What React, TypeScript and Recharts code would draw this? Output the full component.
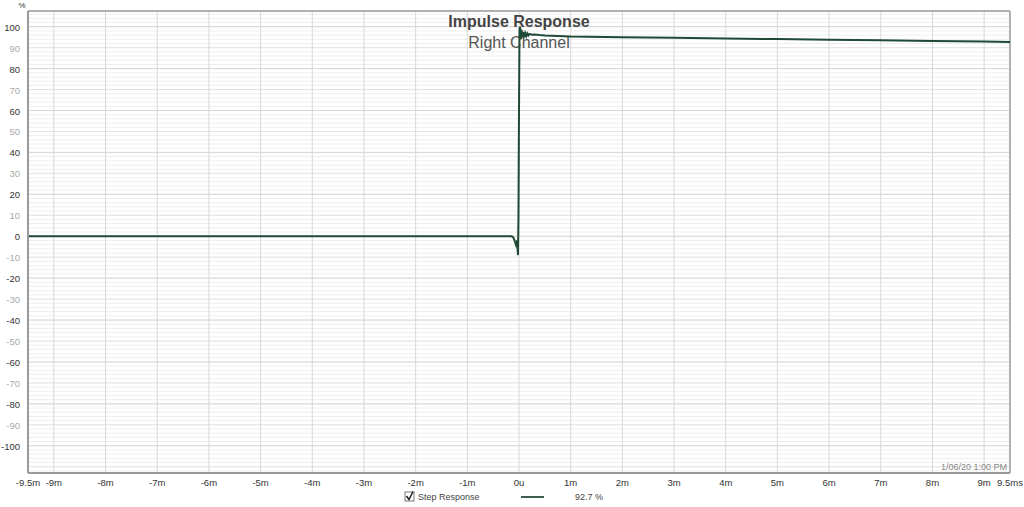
import React from 'react';
import { LineChart, Line, XAxis, YAxis, CartesianGrid, Customized } from 'recharts';

const timeMs = [-9.5, -2, -0.3, -0.15, -0.12, -0.1, -0.08, -0.06, -0.05, -0.04, -0.03, -0.02, -0.01, 0.0, 0.01, 0.02, 0.03, 0.04, 0.05, 0.06, 0.08, 0.1, 0.12, 0.14, 0.16, 0.18, 0.2, 0.25, 0.3, 0.4, 0.5, 1, 2, 3, 4, 5, 6, 7, 8, 9, 9.5];
const stepPct = [0, 0, 0, 0, -0.3, -1, -2.5, -4, -3, -2, -5, -9, 10, 60, 99, 100, 98, 94, 98.5, 95, 97.5, 95, 97, 95.5, 96.8, 95.8, 96.6, 96.2, 96.3, 96, 95.8, 95.3, 95.0, 94.7, 94.4, 94.1, 93.8, 93.5, 93.2, 92.9, 92.7];

const xTicks = [-9.5, -9, -8, -7, -6, -5, -4, -3, -2, -1, 0, 1, 2, 3, 4, 5, 6, 7, 8, 9, 9.5];
const xTickLabels = ['-9.5m', '-9m', '-8m', '-7m', '-6m', '-5m', '-4m', '-3m', '-2m', '-1m', '0u', '1m', '2m', '3m', '4m', '5m', '6m', '7m', '8m', '9m', '9.5ms'];
const yTicks = [100, 90, 80, 70, 60, 50, 40, 30, 20, 10, 0, -10, -20, -30, -40, -50, -60, -70, -80, -90, -100];
const verticalGrid = [-9, -8, -7, -6, -5, -4, -3, -2, -1, 0, 1, 2, 3, 4, 5, 6, 7, 8, 9];
const minorGrid: number[] = [];
for (let v = -112; v <= 106; v += 2) minorGrid.push(v);
const tenGrid = [-110, -90, -70, -50, -30, -10, 10, 30, 50, 70, 90];
const twentyGrid = [-100, -80, -60, -40, -20, 0, 20, 40, 60, 80, 100];

const data = timeMs.map((t, i) => ({ t, v: stepPct[i] }));

const title = 'Impulse Response';
const subtitle = 'Right Channel';
const legendName = 'Step Response';
const legendValue = '92.7 %';
const stamp = '1/06/20 1:00 PM';

const LINE = '#1f4a36';
const FONT = 'Arial, "Liberation Sans", sans-serif';

const YTick = (props: any) => {
  const { x, y, payload } = props;
  const dark = payload.value % 20 === 0;
  return (
    <text x={x} y={y} dy={4} textAnchor="end" fontSize={9.5} fontFamily={FONT} fill={dark ? '#333' : '#aaa'}>
      {payload.value}
    </text>
  );
};

const XTick = (props: any) => {
  const { x, y, payload } = props;
  const idx = xTicks.indexOf(payload.value);
  return (
    <text x={x} y={y} dy={5} textAnchor="middle" fontSize={9.5} fontFamily={FONT} fill="#333">
      {xTickLabels[idx]}
    </text>
  );
};

export default function App() {
  return (
    <div style={{ position: 'absolute', left: 0, top: 0, width: 1024, height: 507, background: '#fff' }}>
      <LineChart width={1024} height={507} data={data} margin={{ top: 11, right: 14, bottom: 0, left: 0 }}>
        <CartesianGrid horizontal={true} vertical={false} horizontalValues={minorGrid} stroke="#eeeeee" strokeWidth={1} />
        <CartesianGrid horizontal={true} vertical={false} horizontalValues={tenGrid} stroke="#e4e4e4" strokeWidth={1} />
        <CartesianGrid horizontal={true} vertical={false} horizontalValues={twentyGrid} stroke="#d6d6d6" strokeWidth={1} />
        <CartesianGrid horizontal={false} vertical={true} verticalValues={verticalGrid} stroke="#d8d8d8" strokeWidth={1} />
        <XAxis
          dataKey="t"
          type="number"
          domain={[-9.5, 9.5]}
          ticks={xTicks}
          interval={0}
          height={34}
          tick={<XTick />}
          tickLine={false}
          axisLine={{ stroke: '#9a9a9a', strokeWidth: 2 }}
          allowDataOverflow
        />
        <YAxis
          type="number"
          domain={[-113, 107.5]}
          ticks={yTicks}
          interval={0}
          width={28}
          tick={<YTick />}
          tickLine={false}
          axisLine={{ stroke: '#9a9a9a', strokeWidth: 2 }}
          allowDataOverflow
        />
        <Line dataKey="v" type="linear" stroke={LINE} strokeWidth={2} dot={false} isAnimationActive={false} />
        <Customized
          component={() => (
            <g fontFamily={FONT}>
              <line x1={28} y1={11} x2={1010} y2={11} stroke="#b0b0b0" strokeWidth={2} />
              <line x1={1010} y1={11} x2={1010} y2={473} stroke="#b0b0b0" strokeWidth={2} />
              <text x={22} y={8} fontSize={8} fill="#333" textAnchor="middle">%</text>
              <text x={519} y={27} fontSize={16} fontWeight="bold" fill="#444" textAnchor="middle">{title}</text>
              <text x={519} y={48} fontSize={16} fill="#555" textAnchor="middle">{subtitle}</text>
              <text x={1007} y={470} fontSize={9} fill="#888" textAnchor="end">{stamp}</text>
              <rect x={405} y={492} width={9} height={9} fill="#fff" stroke="#777" strokeWidth={1} />
              <path d="M406.5 496 L409 499.5 L413 491.5" fill="none" stroke="#222" strokeWidth={1.5} />
              <text x={418} y={500} fontSize={9} fill="#444">{legendName}</text>
              <line x1={521} y1={497} x2={544} y2={497} stroke="#3d5e4d" strokeWidth={2} />
              <text x={575} y={500} fontSize={9} fill="#444">{legendValue}</text>
            </g>
          )}
        />
      </LineChart>
    </div>
  );
}
